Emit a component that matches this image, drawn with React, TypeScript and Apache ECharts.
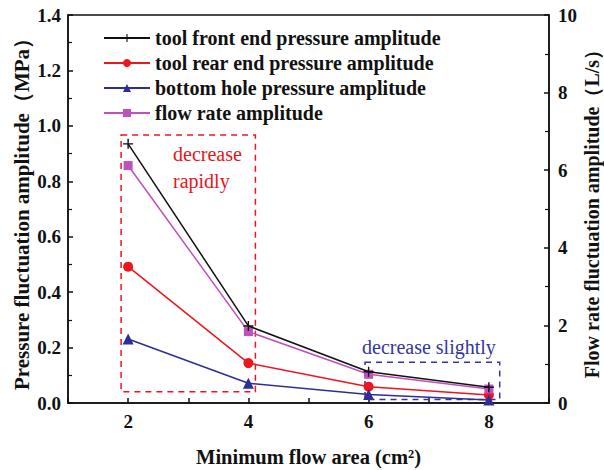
import React, { useEffect, useRef } from "react";
import * as echarts from "echarts";

const areas = [2, 4, 6, 8];
const frontEnd = [0.935, 0.278, 0.113, 0.057];
const rearEnd = [0.492, 0.144, 0.059, 0.029];
const bottomHole = [0.231, 0.071, 0.031, 0.011];
const flowRate = [6.12, 1.84, 0.74, 0.36];
const seriesNames = [
  "tool front end pressure amplitude",
  "tool rear end pressure amplitude",
  "bottom hole pressure amplitude",
  "flow rate amplitude",
];
const rapidBox = [[1.883, 0.967], [4.117, 0.041]];
const slightBox = [[5.94, 0.147], [8.18, 0.013]];

const FONT = "'Liberation Serif', 'Times New Roman', serif";
const CROSS = "path://M4.3,0H5.7V4.3H10V5.7H5.7V10H4.3V5.7H0V4.3H4.3Z";

export default function App() {
  const ref = useRef<HTMLDivElement>(null);
  useEffect(() => {
    if (!ref.current) return;
    const chart = echarts.init(ref.current, null, { renderer: "svg" });
    const pair = (arr: number[]) => areas.map((x, i) => [x, arr[i]]);
    const axisLabel = { fontFamily: FONT, fontWeight: "bold", fontSize: 19, color: "#111" };
    const nameStyle = { fontFamily: FONT, fontWeight: "bold", fontSize: 20, color: "#111" };
    chart.setOption({
      animation: false,
      backgroundColor: "#fff",
      grid: {
        left: 68,
        right: 55,
        top: 15,
        bottom: 67,
        show: true,
        borderColor: "#111",
        borderWidth: 1.5,
        containLabel: false,
        outerBoundsMode: "none",
      },
      legend: {
        orient: "vertical",
        left: 98,
        top: 23,
        itemWidth: 46,
        itemHeight: 10,
        itemGap: 5,
        textStyle: { fontFamily: FONT, fontWeight: "bold", fontSize: 20, color: "#111" },
        data: seriesNames,
      },
      xAxis: {
        type: "value",
        min: 1,
        max: 9,
        interval: 1,
        name: "Minimum flow area (cm²)",
        nameLocation: "middle",
        nameGap: 43,
        nameMoveOverlap: false,
        nameTextStyle: { ...nameStyle, fontSize: 20.5, lineHeight: 22 },
        axisLine: { lineStyle: { color: "#111", width: 1.5 } },
        axisTick: { inside: true, length: 5, lineStyle: { color: "#111", width: 1.5 } },
        axisLabel: { ...axisLabel, margin: 9, formatter: (v: number) => (v % 2 === 0 ? String(v) : "") },
        splitLine: { show: false },
      },
      yAxis: [
        {
          type: "value",
          min: 0,
          max: 1.4,
          interval: 0.2,
          name: "Pressure fluctuation amplitude（MPa）",
          nameLocation: "middle",
          nameGap: 35,
          nameMoveOverlap: false,
          nameTextStyle: { ...nameStyle, fontSize: 21, lineHeight: 22 },
          axisLine: { show: true, lineStyle: { color: "#111", width: 1.5 } },
          axisTick: { inside: true, length: 5, lineStyle: { color: "#111", width: 1.5 } },
          minorTick: { show: true, splitNumber: 2, length: 4, lineStyle: { color: "#111", width: 1.2 } },
          axisLabel: { ...axisLabel, margin: 7, formatter: (v: number) => v.toFixed(1) },
          splitLine: { show: false },
        },
        {
          type: "value",
          min: 0,
          max: 10,
          interval: 2,
          name: "Flow rate fluctuation amplitude（L/s）",
          nameLocation: "middle",
          nameGap: 32,
          nameMoveOverlap: false,
          nameTextStyle: { ...nameStyle, fontSize: 20, lineHeight: 21 },
          axisLine: { show: true, lineStyle: { color: "#111", width: 1.5 } },
          axisTick: { inside: true, length: 5, lineStyle: { color: "#111", width: 1.5 } },
          minorTick: { show: true, splitNumber: 2, length: 4, lineStyle: { color: "#111", width: 1.2 } },
          axisLabel: { ...axisLabel, margin: 9 },
          splitLine: { show: false },
        },
      ],
      graphic: [
        { type: "text", x: 173, y: 154, style: { text: "decrease", fontFamily: FONT, fontSize: 20, fill: "#e8141c", textVerticalAlign: "middle" } },
        { type: "text", x: 173, y: 181, style: { text: "rapidly", fontFamily: FONT, fontSize: 20, fill: "#e8141c", textVerticalAlign: "middle" } },
        { type: "text", x: 362, y: 347, style: { text: "decrease slightly", fontFamily: FONT, fontSize: 20, fill: "#3535a0", textVerticalAlign: "middle" } },
      ],
      series: [
        {
          name: seriesNames[0],
          type: "line",
          data: pair(frontEnd),
          symbol: CROSS,
          symbolSize: 10,
          color: "#111",
          lineStyle: { width: 1.5 },
          z: 5,
        },
        {
          name: seriesNames[1],
          type: "line",
          data: pair(rearEnd),
          symbol: "circle",
          symbolSize: 10,
          color: "#f0141c",
          lineStyle: { width: 1.5 },
          markArea: {
            silent: true,
            itemStyle: { color: "rgba(0,0,0,0)", borderColor: "#f0141c", borderWidth: 1.5, borderType: [6, 5] },
            data: [[{ coord: rapidBox[0] }, { coord: rapidBox[1] }]],
          },
        },
        {
          name: seriesNames[2],
          type: "line",
          data: pair(bottomHole),
          symbol: "triangle",
          symbolSize: 11,
          color: "#2e2e96",
          lineStyle: { width: 1.5 },
          markArea: {
            silent: true,
            itemStyle: { color: "rgba(0,0,0,0)", borderColor: "#3535a0", borderWidth: 1.5, borderType: [6, 5] },
            data: [[{ coord: slightBox[0] }, { coord: slightBox[1] }]],
          },
        },
        {
          name: seriesNames[3],
          type: "line",
          yAxisIndex: 1,
          data: pair(flowRate),
          symbol: "rect",
          symbolSize: 9,
          color: "#c04fbf",
          lineStyle: { width: 1.5 },
        },
      ],
    });
    return () => chart.dispose();
  }, []);
  return <div ref={ref} style={{ position: "absolute", left: 0, top: 0, width: 604, height: 470 }} />;
}
